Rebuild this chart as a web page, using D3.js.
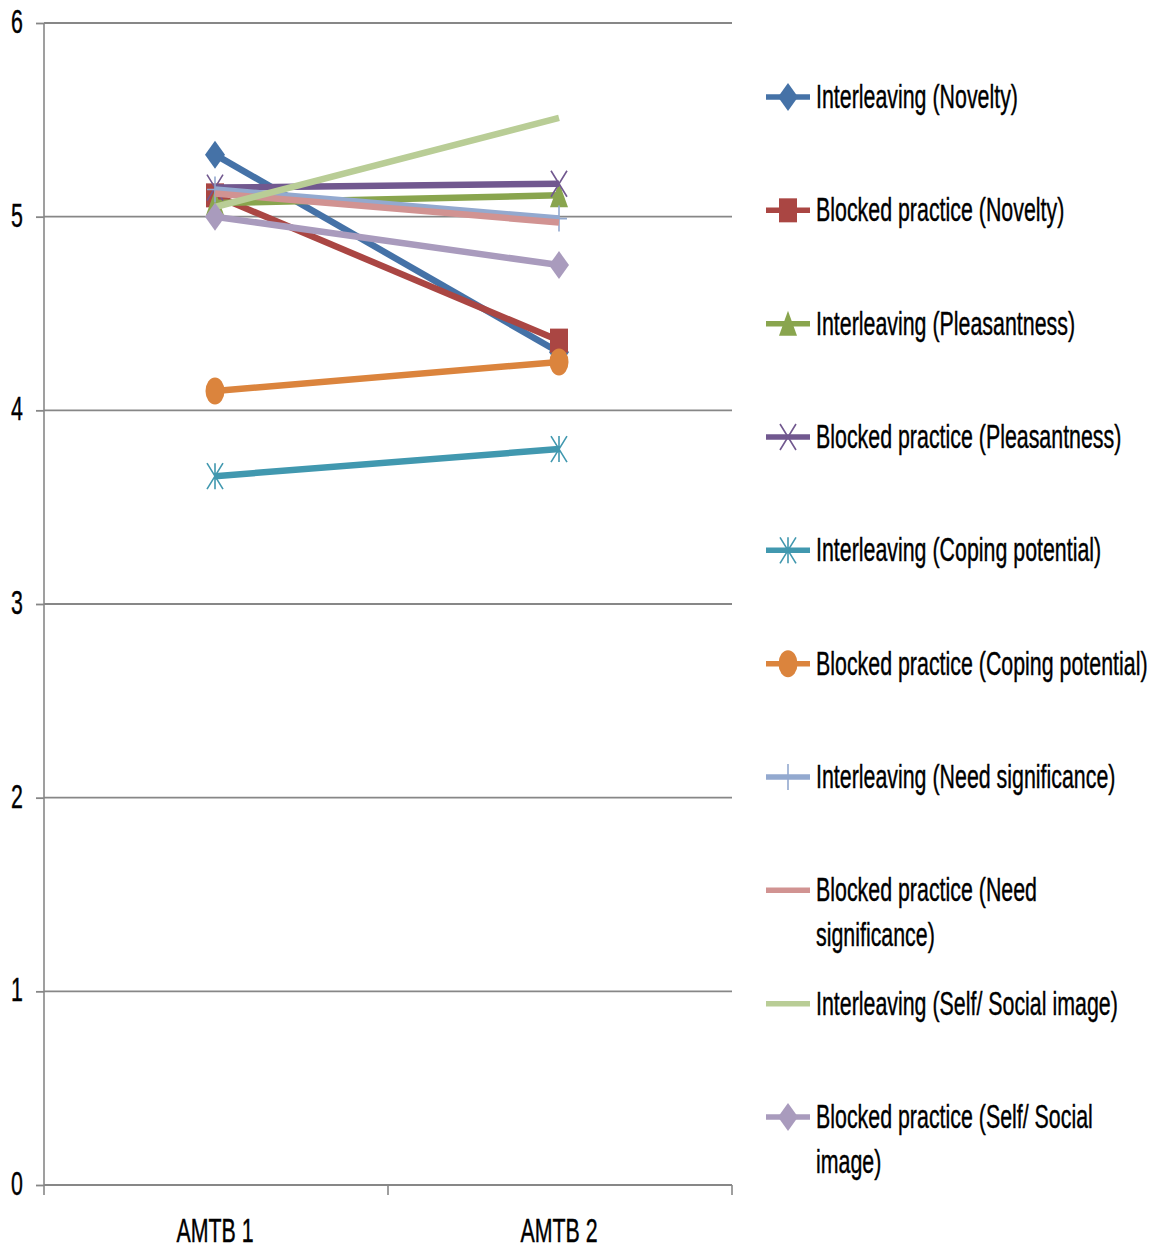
<!DOCTYPE html>
<html>
<head>
<meta charset="utf-8">
<script src="https://cdn.jsdelivr.net/npm/d3@7"></script>
<style>
  html, body { margin: 0; padding: 0; background: #fff; }
  svg { display: block; }
  text { font-family: "Liberation Sans", Arial, sans-serif; fill: #000; }
</style>
</head>
<body>
<svg id="chart" width="1152" height="1251"></svg>
<script>
// Mean ratings per condition at the two measurement points
const categories = ["AMTB 1", "AMTB 2"];
const yTicks = [0, 1, 2, 3, 4, 5, 6];

const seriesNames = [
  "Interleaving (Novelty)",
  "Blocked practice (Novelty)",
  "Interleaving (Pleasantness)",
  "Blocked practice (Pleasantness)",
  "Interleaving (Coping potential)",
  "Blocked practice (Coping potential)",
  "Interleaving (Need significance)",
  "Blocked practice (Need significance)",
  "Interleaving (Self/ Social image)",
  "Blocked practice (Self/ Social image)"
];

const interleavingNovelty      = [5.32, 4.30];
const blockedNovelty           = [5.11, 4.36];
const interleavingPleasantness = [5.07, 5.11];
const blockedPleasantness      = [5.15, 5.17];
const interleavingCoping       = [3.66, 3.80];
const blockedCoping            = [4.10, 4.25];
const interleavingNeed         = [5.14, 4.99];
const blockedNeed              = [5.12, 4.97];
const interleavingSelf         = [5.05, 5.51];
const blockedSelf              = [5.00, 4.75];

const seriesValues = [
  interleavingNovelty, blockedNovelty,
  interleavingPleasantness, blockedPleasantness,
  interleavingCoping, blockedCoping,
  interleavingNeed, blockedNeed,
  interleavingSelf, blockedSelf
];

// Styling
const seriesColors = ["#4572A7", "#AA4643", "#89A54E", "#71588F", "#4198AF",
                      "#DB843D", "#93A9CF", "#D19392", "#B9CD96", "#A99BBD"];
const seriesMarkers = ["diamond", "square", "triangle", "x", "asterisk",
                       "circle", "plus", "none", "none", "diamond"];
// Legend label wrapping
const legendLines = [
  ["Interleaving (Novelty)"],
  ["Blocked practice (Novelty)"],
  ["Interleaving (Pleasantness)"],
  ["Blocked practice (Pleasantness)"],
  ["Interleaving (Coping potential)"],
  ["Blocked practice (Coping potential)"],
  ["Interleaving (Need significance)"],
  ["Blocked practice (Need", "significance)"],
  ["Interleaving (Self/ Social image)"],
  ["Blocked practice (Self/ Social", "image)"]
];

const svg = d3.select("#chart");
const plot = { left: 44, right: 732, top: 23, bottom: 1185 };

const x = d3.scaleBand().domain(categories).range([plot.left, plot.right]).padding(0);
const y = d3.scaleLinear().domain([0, 6]).range([plot.bottom, plot.top]);
const cx = c => x(c) + x.bandwidth() / 2 - 1;

// Condensed, tall lettering
const FS = 20;
const SY = 1.68;
let SX = 0.6;
{
  const probe = svg.append("text").attr("font-size", FS).text("Interleaving (Novelty)");
  const w = probe.node().getComputedTextLength();
  if (w > 0) SX = 202 / w;
  probe.remove();
}
function label(parent, tx, ty, str, anchor) {
  return parent.append("text")
    .attr("font-size", FS)
    .attr("text-anchor", anchor || "start")
    .attr("stroke", "#000").attr("stroke-width", 0.25)
    .attr("transform", `translate(${tx},${ty}) scale(${SX},${SY})`)
    .text(str);
}

// Gridlines
const gridColor = "#878787";
svg.append("g").selectAll("line").data(yTicks).join("line")
  .attr("x1", plot.left).attr("x2", plot.right)
  .attr("y1", d => y(d)).attr("y2", d => y(d))
  .attr("stroke", gridColor).attr("stroke-width", 1.8);

// Y axis
const yAxis = svg.append("g").attr("transform", `translate(${plot.left},0)`)
  .call(d3.axisLeft(y).tickValues(yTicks).tickSize(8).tickFormat(""));
yAxis.select(".domain").attr("stroke", gridColor).attr("stroke-width", 1.6)
  .attr("d", `M0,${plot.top}V${plot.bottom}`);
yAxis.selectAll(".tick line").attr("stroke", gridColor).attr("stroke-width", 1.8);
yTicks.forEach(t => label(svg, 17, y(t) + 10, String(t), "middle"));

// X axis (category boundaries as ticks)
const xAxis = svg.append("g").attr("transform", `translate(0,${plot.bottom})`);
const bounds = [plot.left, ...categories.map(c => x(c) + x.bandwidth())];
xAxis.append("line").attr("x1", plot.left).attr("x2", plot.right)
  .attr("stroke", gridColor).attr("stroke-width", 1.8);
xAxis.selectAll("line.tk").data(bounds).join("line").attr("class", "tk")
  .attr("x1", d => d).attr("x2", d => d).attr("y1", 0).attr("y2", 10)
  .attr("stroke", gridColor).attr("stroke-width", 1.6);
categories.forEach(c => label(svg, cx(c), 1242, c, "middle"));

// Marker shapes (tall, narrow)
function marker(g, type, color) {
  const w = 8, h = 13;
  if (type === "diamond") {
    g.append("path").attr("d", `M0,${-h - 1}L${w + 2},0L0,${h + 1}L${-w - 2},0Z`).attr("fill", color);
  } else if (type === "square") {
    g.append("rect").attr("x", -w - 1).attr("y", -h + 1).attr("width", 2 * w + 2).attr("height", 2 * h - 2).attr("fill", color);
  } else if (type === "triangle") {
    g.append("path").attr("d", `M0,${-h}L${w + 1},${h - 1}L${-w - 1},${h - 1}Z`).attr("fill", color);
  } else if (type === "circle") {
    g.append("ellipse").attr("rx", w + 1.5).attr("ry", h + 0.5).attr("fill", color);
  } else if (type === "x" || type === "asterisk") {
    g.append("path").attr("d", `M${-w},${-h}L${w},${h}M${w},${-h}L${-w},${h}` +
      (type === "asterisk" ? `M0,${-h}L0,${h}` : ""))
      .attr("stroke", color).attr("stroke-width", 1.6).attr("fill", "none");
  } else if (type === "plus") {
    g.append("path").attr("d", `M0,${-h}L0,${h}M${-w},0L${w},0`)
      .attr("stroke", color).attr("stroke-width", 1.6).attr("fill", "none");
  }
}

// Series lines and markers
const line = d3.line().x((d, i) => cx(categories[i])).y(d => y(d));
const seriesG = svg.append("g");
seriesValues.forEach((vals, si) => {
  const g = seriesG.append("g");
  g.append("path").datum(vals).attr("d", line)
    .attr("fill", "none").attr("stroke", seriesColors[si])
    .attr("stroke-width", 6.5);
  vals.forEach((v, i) => {
    const m = g.append("g").attr("transform", `translate(${cx(categories[i])},${y(v)})`);
    marker(m, seriesMarkers[si], seriesColors[si]);
  });
});

// Legend
const legend = svg.append("g");
const legendTop = 97, legendStep = 113.33;
seriesNames.forEach((name, si) => {
  const ly = legendTop + si * legendStep;
  const g = legend.append("g");
  g.append("line").attr("x1", 766).attr("x2", 810).attr("y1", ly).attr("y2", ly)
    .attr("stroke", seriesColors[si]).attr("stroke-width", 5.5);
  const m = g.append("g").attr("transform", `translate(788,${ly})`);
  marker(m, seriesMarkers[si], seriesColors[si]);
  legendLines[si].forEach((t, li) => label(g, 816, ly + 11 + li * 45, t));
});
</script>
</body>
</html>
